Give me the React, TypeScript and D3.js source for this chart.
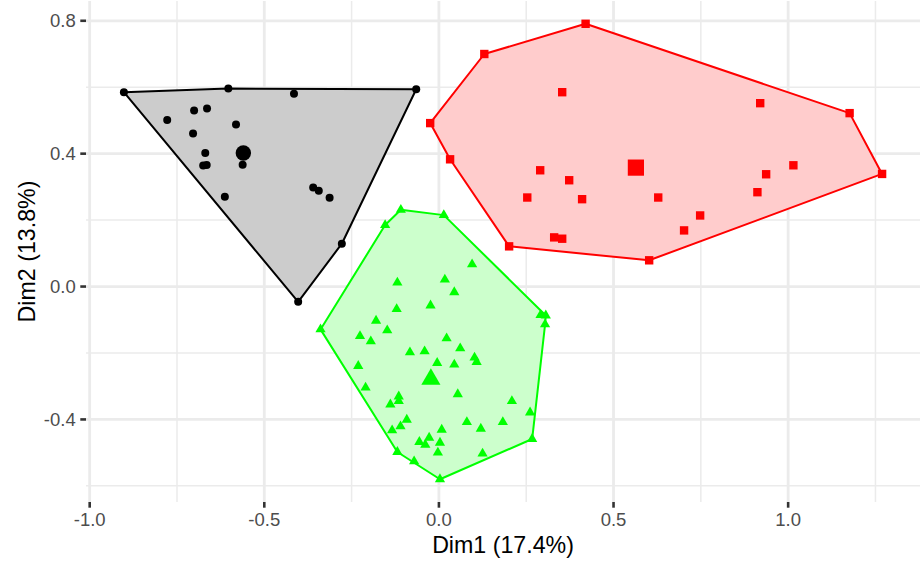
import React, { useEffect, useRef } from "react";
import * as d3 from "d3";

// cluster members (Dim1, Dim2)
const cluster1: [number, number][] = [
  [-0.902, 0.585], [-0.603, 0.596], [-0.065, 0.594], [-0.415, 0.58],
  [-0.778, 0.501], [-0.701, 0.53], [-0.664, 0.536], [-0.581, 0.488],
  [-0.704, 0.461], [-0.669, 0.402], [-0.675, 0.364], [-0.665, 0.366],
  [-0.562, 0.367], [-0.613, 0.27], [-0.36, 0.298], [-0.344, 0.288],
  [-0.313, 0.267], [-0.278, 0.129], [-0.403, -0.046],
];

const cluster2: [number, number][] = [
  [0.42, 0.791], [0.13, 0.7], [-0.025, 0.492], [0.032, 0.383],
  [0.201, 0.121], [0.602, 0.079], [1.269, 0.339], [1.176, 0.522],
  [0.353, 0.585], [0.92, 0.552], [0.29, 0.35], [0.373, 0.32],
  [0.253, 0.268], [0.41, 0.263], [0.628, 0.268], [0.937, 0.338],
  [1.015, 0.365], [0.912, 0.284], [0.748, 0.214], [0.702, 0.169],
  [0.33, 0.148], [0.353, 0.144],
];

const cluster3: [number, number][] = [
  [-0.109, 0.231], [0.014, 0.215], [-0.154, 0.185], [-0.339, -0.129],
  [-0.119, -0.498], [-0.071, -0.526], [0.003, -0.58], [0.125, -0.503],
  [0.267, -0.459], [0.304, -0.114], [0.291, -0.086], [0.306, -0.087],
  [0.261, -0.379], [0.095, 0.067], [-0.119, 0.012], [0.017, 0.021],
  [0.044, -0.017], [-0.121, -0.068], [-0.024, -0.057], [-0.18, -0.103],
  [-0.148, -0.132], [-0.226, -0.149], [-0.195, -0.165], [0.022, -0.156],
  [-0.083, -0.198], [-0.041, -0.195], [0.061, -0.186], [0.102, -0.214],
  [0.108, -0.227], [-0.005, -0.23], [0.044, -0.235], [-0.231, -0.239],
  [-0.21, -0.304], [0.054, -0.324], [-0.115, -0.331], [-0.115, -0.345],
  [-0.139, -0.355], [0.209, -0.345], [-0.092, -0.401], [-0.11, -0.421],
  [-0.134, -0.433], [0.08, -0.408], [0.12, -0.428], [0.183, -0.408],
  [0.008, -0.431], [-0.028, -0.455], [-0.056, -0.468], [-0.039, -0.476],
  [0.003, -0.47], [-0.003, -0.5],
];

const centers: [number, number][] = [
  [-0.56, 0.402],
  [0.564, 0.358],
  [-0.023, -0.279],
];

const clusterColors = ["#000000", "#FF0000", "#00FF00"];
const clusterFills = ["#CCCCCC", "#FFCCCC", "#CCFFCC"];
const clusterShapes = ["circle", "square", "triangle"];

const xTicks = [-1.0, -0.5, 0.0, 0.5, 1.0];
const yTicks = [-0.4, 0.0, 0.4, 0.8];
const xMinor = [-0.75, -0.25, 0.25, 0.75, 1.25];
const yMinor = [-0.6, -0.2, 0.2, 0.6];

const xTitle = "Dim1 (17.4%)";
const yTitle = "Dim2 (13.8%)";

const font = "'Liberation Sans', Arial, Helvetica, sans-serif";

// R-like point glyphs, centred on 0,0
const marker = (shape: string, big: boolean) => {
  if (shape === "circle") {
    const r = big ? 7.7 : 4;
    return `M${-r},0A${r},${r} 0 1,0 ${r},0A${r},${r} 0 1,0 ${-r},0Z`;
  }
  if (shape === "square") {
    const h = big ? 8.1 : 4.2;
    return `M${-h},${-h}H${h}V${h}H${-h}Z`;
  }
  const b = big ? 7.1 : 3.8;
  const r = 1.5551 * b;
  const xc = 1.3468 * b;
  const yc = 0.7776 * b;
  return `M0,${-r}L${xc},${yc}L${-xc},${yc}Z`;
};

const App = () => {
  const svgRef = useRef<SVGSVGElement>(null);

  useEffect(() => {
    const svg = d3.select(svgRef.current);
    svg.selectAll("*").remove();

    const margin = { top: 1, right: 0, bottom: 59, left: 86 };
    const width = 920;
    const height = 561;

    const clusters = [cluster1, cluster2, cluster3];
    const all = clusters.flat();
    const [x0, x1] = d3.extent(all, (d) => d[0]) as [number, number];
    const [y0, y1] = d3.extent(all, (d) => d[1]) as [number, number];
    const ex = (x1 - x0) * 0.05;
    const ey = (y1 - y0) * 0.05;

    const x = d3
      .scaleLinear()
      .domain([x0 - ex, x1 + ex])
      .range([margin.left, width - margin.right]);
    const y = d3
      .scaleLinear()
      .domain([y0 - ey, y1 + ey])
      .range([height - margin.bottom, margin.top]);

    const top = margin.top;
    const bottom = height - margin.bottom;
    const left = margin.left;
    const right = width - margin.right;

    const fmt = (d: number) => d.toFixed(1);

    // grid
    const grid = svg.append("g");
    grid
      .selectAll("line.xminor")
      .data(xMinor)
      .join("line")
      .attr("x1", (d) => x(d))
      .attr("x2", (d) => x(d))
      .attr("y1", top)
      .attr("y2", bottom)
      .attr("stroke", "#EBEBEB")
      .attr("stroke-width", 1.5);
    grid
      .selectAll("line.yminor")
      .data(yMinor)
      .join("line")
      .attr("x1", left)
      .attr("x2", right)
      .attr("y1", (d) => y(d))
      .attr("y2", (d) => y(d))
      .attr("stroke", "#EBEBEB")
      .attr("stroke-width", 1.5);
    grid
      .selectAll("line.xmajor")
      .data(xTicks)
      .join("line")
      .attr("x1", (d) => x(d))
      .attr("x2", (d) => x(d))
      .attr("y1", top)
      .attr("y2", bottom)
      .attr("stroke", "#EBEBEB")
      .attr("stroke-width", 2.8);
    grid
      .selectAll("line.ymajor")
      .data(yTicks)
      .join("line")
      .attr("x1", left)
      .attr("x2", right)
      .attr("y1", (d) => y(d))
      .attr("y2", (d) => y(d))
      .attr("stroke", "#EBEBEB")
      .attr("stroke-width", 2.8);

    // hulls
    clusters.forEach((pts, i) => {
      const hull = d3.polygonHull(pts.map((p) => [x(p[0]), y(p[1])] as [number, number]));
      if (!hull) return;
      svg
        .append("path")
        .attr("d", "M" + hull.map((p) => p.join(",")).join("L") + "Z")
        .attr("fill", clusterFills[i])
        .attr("stroke", clusterColors[i])
        .attr("stroke-width", 2)
        .attr("stroke-linejoin", "round");
    });

    // points
    clusters.forEach((pts, i) => {
      svg
        .append("g")
        .selectAll("path")
        .data(pts)
        .join("path")
        .attr("d", marker(clusterShapes[i], false))
        .attr("transform", (d) => `translate(${x(d[0])},${y(d[1])})`)
        .attr("fill", clusterColors[i]);
    });

    // centroids
    svg
      .append("g")
      .selectAll("path")
      .data(centers)
      .join("path")
      .attr("d", (d, i) => marker(clusterShapes[i], true))
      .attr("transform", (d) => `translate(${x(d[0])},${y(d[1])})`)
      .attr("fill", (d, i) => clusterColors[i]);

    // axes
    const axes = svg.append("g");
    axes
      .selectAll("line.xt")
      .data(xTicks)
      .join("line")
      .attr("x1", (d) => x(d))
      .attr("x2", (d) => x(d))
      .attr("y1", bottom)
      .attr("y2", bottom + 5.7)
      .attr("stroke", "#333333")
      .attr("stroke-width", 2.6);
    axes
      .selectAll("text.xl")
      .data(xTicks)
      .join("text")
      .attr("x", (d) => x(d))
      .attr("y", 525.7)
      .attr("text-anchor", "middle")
      .attr("font-family", font)
      .attr("font-size", 18.5)
      .attr("fill", "#4D4D4D")
      .text(fmt);

    const yAxis = svg.append("g");
    yAxis
      .selectAll("line")
      .data(yTicks)
      .join("line")
      .attr("x1", left - 5.7)
      .attr("x2", left)
      .attr("y1", (d) => y(d))
      .attr("y2", (d) => y(d))
      .attr("stroke", "#333333")
      .attr("stroke-width", 2.6);
    yAxis
      .selectAll("text")
      .data(yTicks)
      .join("text")
      .attr("x", left - 10.3)
      .attr("y", (d) => y(d))
      .attr("dy", "0.358em")
      .attr("text-anchor", "end")
      .attr("font-family", font)
      .attr("font-size", 18.5)
      .attr("fill", "#4D4D4D")
      .text(fmt);

    // titles
    svg
      .append("text")
      .attr("x", (left + right) / 2)
      .attr("y", 553.3)
      .attr("text-anchor", "middle")
      .attr("font-family", font)
      .attr("font-size", 23.2)
      .attr("fill", "#000000")
      .text(xTitle);

    svg
      .append("text")
      .attr("transform", `translate(35,${(top + bottom) / 2}) rotate(-90)`)
      .attr("text-anchor", "middle")
      .attr("font-family", font)
      .attr("font-size", 23.2)
      .attr("fill", "#000000")
      .text(yTitle);
  }, []);

  return (
    <svg
      ref={svgRef}
      width={920}
      height={561}
      style={{ position: "absolute", left: 0, top: 0, background: "#FFFFFF" }}
    />
  );
};

export default App;
